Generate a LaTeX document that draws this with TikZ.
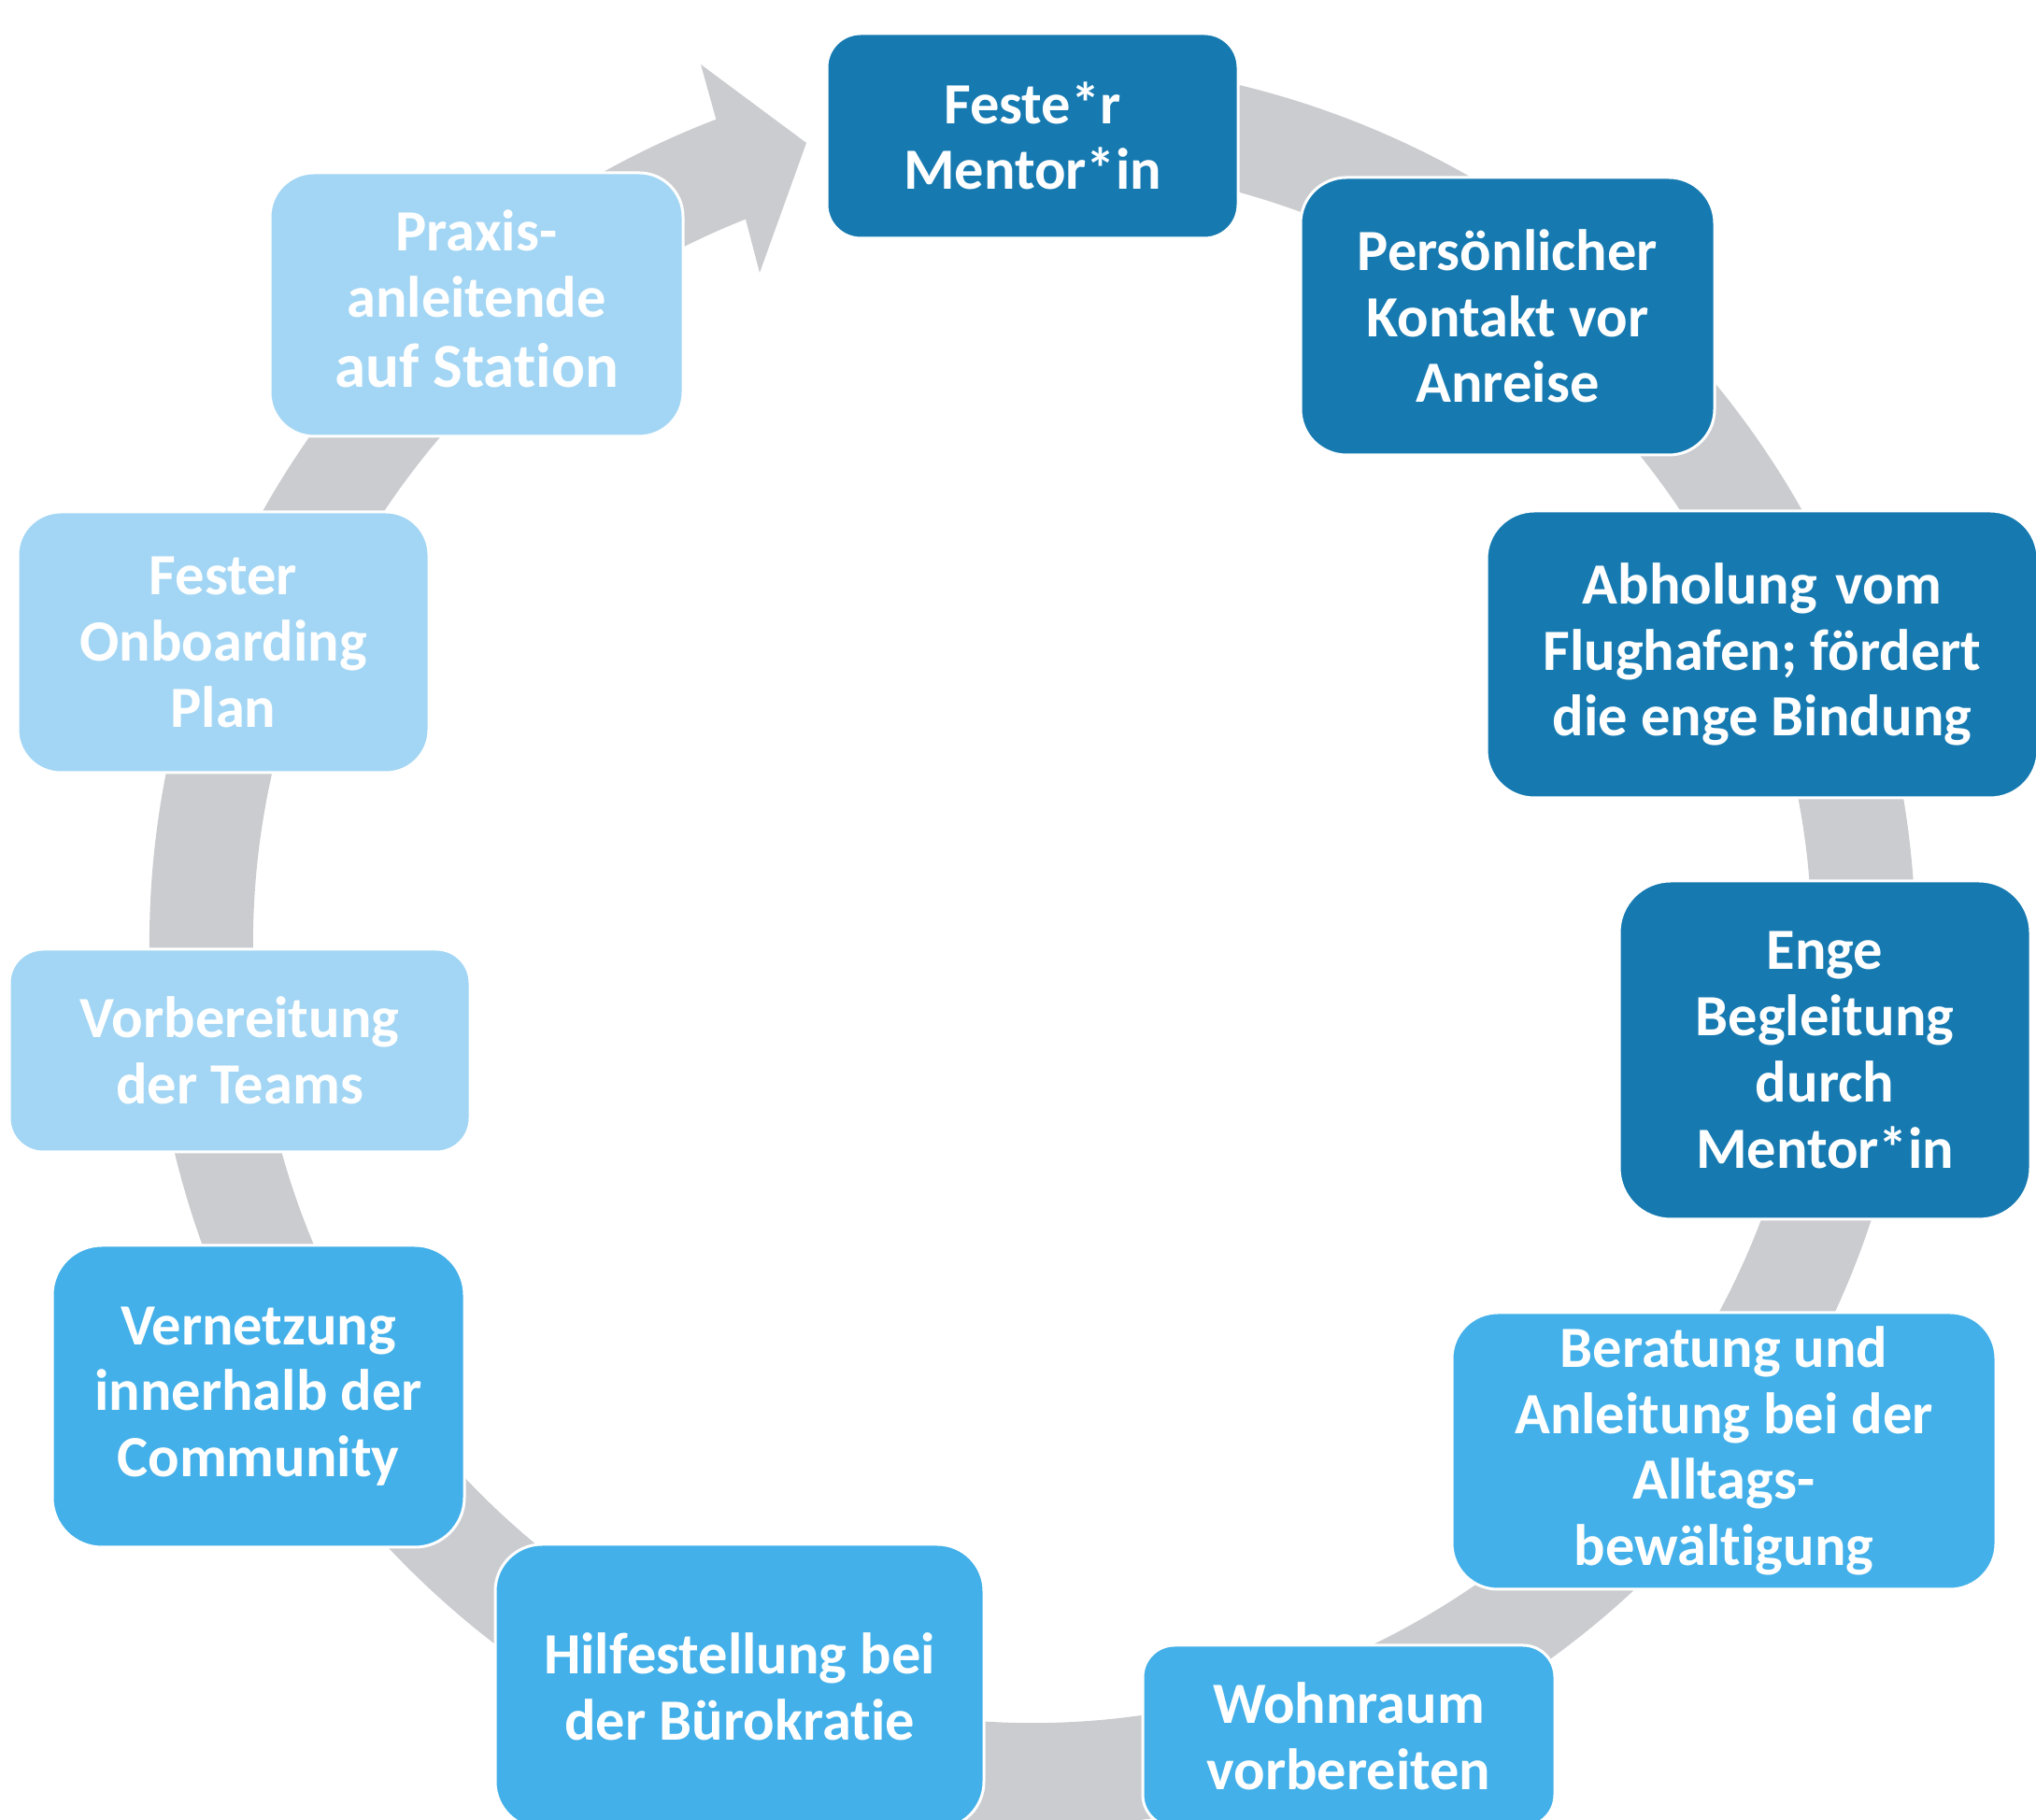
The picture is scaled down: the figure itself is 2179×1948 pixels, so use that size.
\documentclass[tikz,border=0pt]{standalone}
\usepackage{fontspec}
\setmainfont{Carlito}[Ligatures={NoCommon}]
\usetikzlibrary{calc}
\definecolor{cdark}{HTML}{167AB1}
\definecolor{cmid}{HTML}{43B0E9}
\definecolor{clight}{HTML}{A3D6F4}
\definecolor{cring}{HTML}{CBCCD0}
\begin{document}
\begin{tikzpicture}[x=1pt,y=1pt,
  box/.style={draw=white, line width=3pt, text=white, align=center, inner sep=0pt,
    font=\bfseries\fontsize{62.5}{70.7}\selectfont},
  darkbox/.style={box, fill=cdark},
  midbox/.style={box, fill=cmid},
  lightbox/.style={box, fill=clight},
  boxtext/.style={text=white, align=center, inner sep=0pt,
    font=\bfseries\fontsize{62.5}{70.7}\selectfont}]
\useasboundingbox (0,0) rectangle (2179,1948);
\coordinate (C) at (1105,938);
\coordinate (ob) at (750,1879);
\coordinate (tip) at (863,1795);
\coordinate (ib) at (813,1656);
% ring with arrowhead
\fill[cring] ($(C)+(100:945)$) arc[start angle=100, end angle=-249, radius=945]
  -- (ob) -- (tip) -- (ib) -- ($(C)+(-248.4:834)$)
  arc[start angle=-248.4, end angle=100, radius=834] -- cycle;
% boxes
\node[darkbox, minimum width=440pt, minimum height=219pt, rounded corners=36pt] (feste) at (1105,1802.5) {Feste*r\\Mentor*in};
\node[darkbox, minimum width=443pt, minimum height=297pt, rounded corners=49pt] (pers) at (1613.5,1609.5) {Persönlicher\\Kontakt vor\\Anreise};
\node[darkbox, minimum width=590pt, minimum height=307pt, rounded corners=51pt] (abh) at (1886,1247.5) {Abholung\hspace{6pt} vom\\Flughafen; fördert\\die enge Bindung};
\node[darkbox, minimum width=440pt, minimum height=362pt, rounded corners=55pt] (enge) at (1953,824) {Enge\\Begleitung\\durch\\Mentor*in};
\node[midbox, minimum width=582pt, minimum height=296pt, rounded corners=49pt] (ber) at (1845,395) {Beratung und\\Anleitung bei der\\Alltags-\\bewältigung};
\node[midbox, minimum width=441pt, minimum height=194pt, rounded corners=34pt] (wohn) at (1443.5,90) {Wohnraum\\vorbereiten};
\node[midbox, minimum width=523pt, minimum height=304pt, rounded corners=50pt] (hilf) at (791.5,143) {Hilfestellung bei\\der Bürokratie};
\node[midbox, minimum width=441pt, minimum height=323pt, rounded corners=53pt] (vern) at (276.5,453.5) {Vernetzung\\innerhalb der\\Community};
\node[lightbox, minimum width=493pt, minimum height=217pt, rounded corners=36pt] (vorb) at (256.5,823.5) {Vorbereitung\\der Teams};
\node[lightbox, minimum width=440pt, minimum height=279pt, rounded corners=46pt] (onb) at (239,1260.5) {Fester\\Onboarding\\Plan};
\node[lightbox, minimum width=442pt, minimum height=282pt, rounded corners=47pt] (prax) at (510,1622) {};
\node[boxtext, yshift=6pt] (praxt) at (prax.center) {Praxis-\\anleitende\\[4pt]{\fontsize{67}{72}\selectfont auf Station}};
\end{tikzpicture}
\end{document}
